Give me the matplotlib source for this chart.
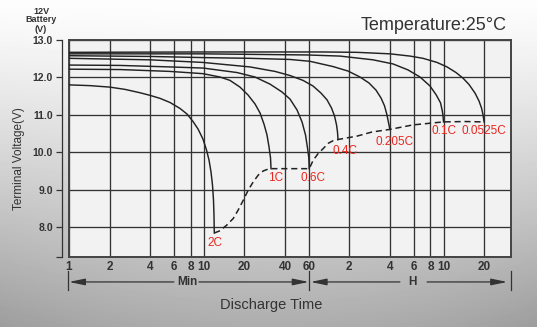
import numpy as np
import matplotlib.pyplot as plt
from matplotlib.ticker import FixedLocator, NullLocator

plt.rcParams['font.family'] = ['Liberation Sans', 'DejaVu Sans']

# discharge time in minutes, terminal voltage in volts
t_2c = [1, 1.43, 2.01, 2.60, 3.36, 3.99, 4.73, 5.61, 6.66, 7.51, 8.32, 9.06, 9.86,
        10.47, 10.93, 11.31, 11.60, 11.80, 11.90, 11.96]
v_2c = [11.80, 11.78, 11.74, 11.68, 11.59, 11.52, 11.44, 11.33, 11.17, 11.02, 10.82, 10.62, 10.35,
        10.06, 9.79, 9.47, 9.12, 8.72, 8.32, 7.84]

t_1c = [1, 2.39, 5.61, 9.86, 13.19, 15.64, 18.56, 21.28, 23.98, 26.12, 27.96, 29.43, 30.46, 31.25, 31.52]
v_1c = [12.22, 12.21, 12.16, 12.10, 12.01, 11.92, 11.74, 11.53, 11.29, 11.05, 10.75, 10.46, 10.14, 9.85, 9.56]

t_06c = [1, 2.39, 5.61, 9.86, 17.63, 23.98, 30.98, 38.03, 43.61, 49.14, 53.52, 56.82, 58.80, 60.12, 60.5]
v_06c = [12.33, 12.32, 12.28, 12.25, 12.13, 12.01, 11.82, 11.61, 11.42, 11.13, 10.81, 10.46, 10.11, 9.85, 9.56]

t_04c = [1, 3.99, 9.86, 22.01, 33.75, 43.61, 54.43, 64.58, 74.04, 82.03, 88.6, 93.24, 96.5, 98.1, 99]
v_04c = [12.51, 12.47, 12.40, 12.28, 12.16, 12.05, 11.92, 11.77, 11.58, 11.40, 11.18, 10.97, 10.73, 10.54, 10.34]

t_0205c = [1, 3.99, 9.86, 22.01, 43.61, 61.36, 90.89, 117.4, 144.1, 168.1, 189.4, 206.3, 219.0,
           227.5, 234, 240]
v_0205c = [12.58, 12.56, 12.53, 12.51, 12.48, 12.43, 12.29, 12.17, 12.01, 11.85, 11.66, 11.45, 11.24,
           11.02, 10.81, 10.61]

t_01c = [1, 9.86, 58.3, 102.4, 180, 253.3, 327.2, 401.8, 476.4, 530, 570, 588, 595, 600]
v_01c = [12.63, 12.63, 12.60, 12.57, 12.47, 12.36, 12.20, 12.01, 11.77, 11.53, 11.32, 11.10, 10.97, 10.81]

t_00525c = [1, 9.86, 76.61, 136.9, 240.6, 338.6, 422.7, 537, 637.2, 742.9, 837.1, 927.8, 1027.8,
            1100, 1148.5, 1178, 1200]
v_00525c = [12.67, 12.68, 12.68, 12.67, 12.63, 12.57, 12.51, 12.40, 12.28, 12.13, 11.98, 11.81, 11.58,
            11.37, 11.18, 11.00, 10.81]

# end-of-discharge (dashed) line
t_end = [11.96, 13.19, 14.79, 16.55, 18.03, 19.64, 21.38, 23.29, 25.37, 27.63, 30.10, 31.52, 45,
         60.5, 64.9, 70.7, 77.0, 83.9, 91.3, 99, 136.9, 176.9, 240, 356.4, 600, 866.3, 1200]
v_end = [7.84, 7.90, 8.05, 8.23, 8.46, 8.72, 8.99, 9.21, 9.39, 9.50, 9.55, 9.56, 9.56,
         9.56, 9.79, 9.97, 10.10, 10.24, 10.31, 10.34, 10.43, 10.54, 10.61, 10.73, 10.81, 10.82, 10.81]

rate_names = ['2C', '1C', '0.6C', '0.4C', '0.205C', '0.1C', '0.0525C']
rate_t = [12.1, 34.2, 64.9, 111.6, 262, 600, 1200]
rate_v = [7.57, 9.30, 9.30, 10.04, 10.28, 10.57, 10.57]

xticks = [1, 2, 4, 6, 8, 10, 20, 40, 60, 120, 240, 360, 480, 600, 1200]
xticklabels = ['1', '2', '4', '6', '8', '10', '20', '40', '60', '2', '4', '6', '8', '10', '20']
yticks = [8, 9, 10, 11, 12, 13]

W, H = 537, 327
fig = plt.figure(figsize=(W / 100, H / 100), dpi=100)

# grey gradient backdrop
bg = fig.add_axes([0, 0, 1, 1], zorder=-10)
yy = np.linspace(0, 1, H)[:, None]
xx = np.linspace(0, 1, W)[None, :]
shade = 253 - 80 * yy ** 1.25 - 16 * (2 * xx - 1) ** 2 * yy
bg.imshow(shade, cmap='gray', vmin=0, vmax=255, aspect='auto')
bg.axis('off')

ax = fig.add_axes([69 / W, 1 - 257 / H, 442 / W, 217 / H])
ax.set_facecolor('#f2f2f2')
ax.set_axisbelow(True)

for t, v in [(t_2c, v_2c), (t_1c, v_1c), (t_06c, v_06c), (t_04c, v_04c),
             (t_0205c, v_0205c), (t_01c, v_01c), (t_00525c, v_00525c)]:
    ax.plot(t, v, color='#222222', lw=1.05, zorder=3, solid_joinstyle='round')
ax.plot(t_end, v_end, color='#222222', lw=1.1, ls=(0, (4, 2.5)), zorder=3)

for name, t, v in zip(rate_names, rate_t, rate_v):
    ax.text(t, v, name, color='#e8271f', fontsize=8.5, ha='center', va='center', zorder=4)

ax.set_xscale('log')
ax.set_xlim(1, 1900)
ax.set_ylim(7.198, 13.0)
ax.xaxis.set_major_locator(FixedLocator(xticks))
ax.xaxis.set_minor_locator(NullLocator())
ax.set_xticklabels(xticklabels)
ax.set_yticks([7.198] + yticks)
ax.set_yticklabels([''] + ['%.1f' % y for y in yticks])

ax.grid(True, color='#333333', lw=0.95)
ax.axvline(1, color='#444444', lw=1.4, clip_on=False)
for s in ['top', 'right', 'bottom']:
    ax.spines[s].set_color('#444444')
    ax.spines[s].set_linewidth(1.4)
ax.spines['left'].set_position(('outward', 5))
ax.spines['left'].set_color('#333333')
ax.spines['left'].set_linewidth(0.9)

ax.tick_params(axis='y', direction='out', length=4.5, width=0.9, pad=2,
               labelsize=7.5, colors='#333333')
ax.tick_params(axis='x', length=0, pad=3, labelsize=8.5, colors='#333333')
for lab in ax.get_yticklabels() + ax.get_xticklabels():
    lab.set_fontweight('bold')

# Min / H range arrows under the axis
trans = ax.get_xaxis_transform()
ya = -0.115
arrow = dict(arrowstyle='-|>,head_length=1.2,head_width=0.25', color='#333333',
             lw=0.9, mutation_scale=8, shrinkA=0, shrinkB=0)
for start, end in [(6.0, 1), (9.2, 60), (285, 62), (453, 1780)]:
    ax.annotate('', xy=(end, ya), xytext=(start, ya), xycoords=trans, textcoords=trans,
                arrowprops=arrow, annotation_clip=False)
for xb in [0.98, 60.5, 1900]:
    ax.plot([xb, xb], [-0.065, -0.152], transform=trans, color='#333333', lw=0.9, clip_on=False)
ax.text(7.6, ya, 'Min', transform=trans, ha='center', va='center', fontsize=8.5,
        fontweight='bold', color='#333333')
ax.text(350, ya, 'H', transform=trans, ha='center', va='center', fontsize=8.5,
        fontweight='bold', color='#333333')

fig.text(271 / W, 1 - 305 / H, 'Discharge Time', ha='center', va='center',
         fontsize=10.5, color='#333333')
fig.text(19 / W, 1 - 159 / H, 'Terminal Voltage(V)', rotation=90, ha='center',
         va='center', fontsize=8.5, color='#333333')
fig.text(507 / W, 1 - 25 / H, 'Temperature:25°C', ha='right', va='center',
         fontsize=13, color='#333333')
for txt, yp in [('12V', 11), ('Battery', 20), ('(V)', 30)]:
    fig.text(41 / W, 1 - yp / H, txt, ha='center', va='center', fontsize=6.5,
             fontweight='bold', color='#333333')

fig.savefig('out.png', dpi=100)
